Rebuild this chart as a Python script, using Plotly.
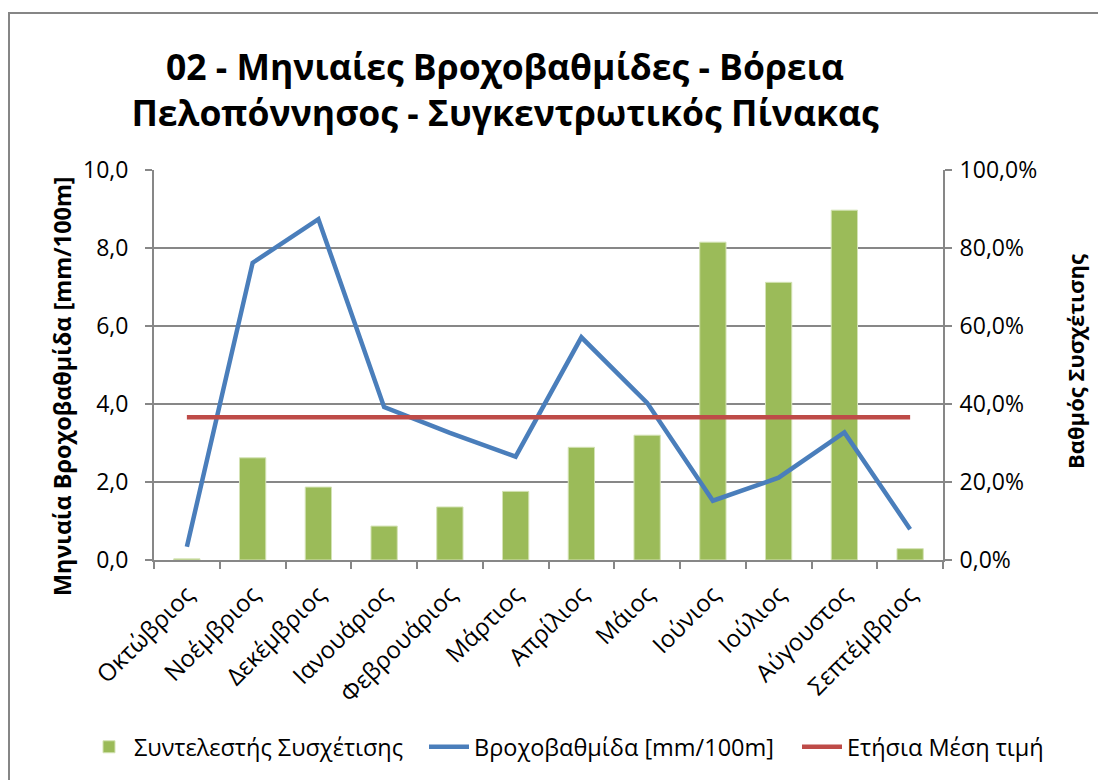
import plotly.graph_objects as go

months = ["Οκτώβριος", "Νοέμβριος", "Δεκέμβριος", "Ιανουάριος", "Φεβρουάριος", "Μάρτιος",
          "Απρίλιος", "Μάιος", "Ιούνιος", "Ιούλιος", "Αύγουστος", "Σεπτέμβριος"]
correlation = [0.003, 0.262, 0.187, 0.087, 0.136, 0.176, 0.289, 0.320, 0.815, 0.712, 0.897, 0.029]
gradient = [0.34, 7.62, 8.74, 3.92, 3.26, 2.65, 5.71, 4.03, 1.52, 2.11, 3.27, 0.79]
annual_mean = [3.66, 3.66, 3.66, 3.66, 3.66, 3.66, 3.66, 3.66, 3.66, 3.66, 3.66, 3.66]

left_ticks = [0, 2, 4, 6, 8, 10]
right_ticks = [0, 0.2, 0.4, 0.6, 0.8, 1.0]

FONT = "Open Sans"
GRID = "#878787"

# page body has an 8px margin: figure drawn at (8, 8)
W, H = 1098, 772
PL, PR, PT, PB = 146, 935, 162, 552  # plot area in figure pixels
PW, PH = PR - PL, PB - PT

fig = go.Figure()
fig.add_trace(go.Bar(
    x=months, y=correlation, name="Συντελεστής Συσχέτισης",
    marker=dict(color="#9BBB59", line=dict(color="#d4e3b5", width=1)),
    yaxis="y", legend="legend",
))
fig.add_trace(go.Scatter(
    x=months, y=gradient, name="Βροχοβαθμίδα [mm/100m]", mode="lines",
    line=dict(color="#4A7EBB", width=4.5), yaxis="y2", legend="legend2",
))
fig.add_trace(go.Scatter(
    x=months, y=annual_mean, name="Ετήσια Μέση τιμή", mode="lines",
    line=dict(color="#BE4B48", width=4.5), yaxis="y2", legend="legend3",
))


def legend_at(x_fig):
    return dict(
        orientation="h", x=x_fig / W, xref="container", xanchor="left",
        y=1 - 739 / H, yref="container", yanchor="middle",
        font=dict(size=23.5, color="black"), itemwidth=40,
        bgcolor="rgba(0,0,0,0)",
    )


fig.update_layout(
    width=W, height=H,
    margin=dict(l=PL, r=W - PR, t=PT, b=H - PB),
    paper_bgcolor="white", plot_bgcolor="white",
    font=dict(family=FONT, color="black", size=21),
    separators=",.",
    bargap=0.6,
    showlegend=True,
    title=dict(
        text="02 - Μηνιαίες Βροχοβαθμίδες - Βόρεια<br>Πελοπόννησος - Συγκεντρωτικός Πίνακας",
        x=497 / W, xanchor="center", xref="container",
        y=1 - 72 / H, yanchor="middle", yref="container",
        font=dict(family=FONT, size=35.5, color="black", weight="bold"),
    ),
    xaxis=dict(
        type="category", tickangle=-45, tickson="boundaries",
        ticks="outside", ticklen=7, tickcolor=GRID, tickwidth=2,
        showline=True, linecolor=GRID, linewidth=2,
        showgrid=False, tickfont=dict(size=24), ticklabelstandoff=9,
    ),
    yaxis=dict(
        side="right", range=[0, 1.0], tickvals=right_ticks, tickformat=".1%",
        ticks="outside", ticklen=7, tickcolor=GRID, tickwidth=2,
        showline=True, linecolor=GRID, linewidth=2,
        showgrid=True, gridcolor=GRID, gridwidth=2,
        zeroline=False, tickfont=dict(size=23), ticklabelstandoff=3,
    ),
    yaxis2=dict(
        side="left", overlaying="y", range=[0, 10], tickvals=left_ticks, tickformat=".1f",
        ticks="outside", ticklen=7, tickcolor=GRID, tickwidth=2,
        showline=True, linecolor=GRID, linewidth=2,
        showgrid=False, zeroline=False, tickfont=dict(size=23), ticklabelstandoff=12,
    ),
    legend=legend_at(76),
    legend2=legend_at(416),
    legend3=legend_at(789),
    annotations=[
        dict(text="<b>Μηνιαία Βροχοβαθμίδα [mm/100m]</b>", xref="paper", yref="paper",
             x=(54 - PL) / PW, y=(PB - 378) / PH, xanchor="center", yanchor="middle",
             textangle=-90, showarrow=False, font=dict(size=23.4, color="black")),
        dict(text="<b>Βαθμός Συσχέτισης</b>", xref="paper", yref="paper",
             x=(1067 - PL) / PW, y=(PB - 354) / PH, xanchor="center", yanchor="middle",
             textangle=-90, showarrow=False, font=dict(size=22, color="black")),
    ],
    shapes=[dict(
        type="rect", xref="paper", yref="paper",
        x0=(1 - PL) / PW, x1=(1110 - PL) / PW,
        y0=(PB - 5) / PH, y1=(PB - 790) / PH,
        line=dict(color="#868686", width=2), fillcolor="rgba(0,0,0,0)", layer="below",
    )],
)

fig.write_html("out.html")
